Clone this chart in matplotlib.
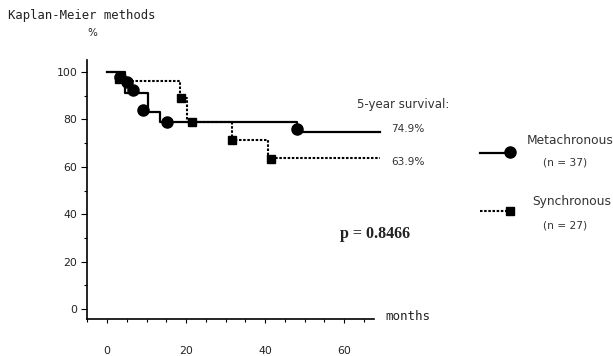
import matplotlib
matplotlib.use("Agg")
import matplotlib.pyplot as plt
from matplotlib.lines import Line2D
from matplotlib.ticker import FixedLocator

# ---- data ----
meta_t = [0, 4.5, 6.6, 10.3, 13.4, 48.0, 69.0]
meta_s = [100, 91, 91, 83, 79, 74.9, 74.9]
meta_mark_t = [3.3, 5.0, 6.6, 9.2, 15.2, 48.0]
meta_mark_s = [98, 96, 92.5, 84, 79, 76]

sync_t = [0, 3.0, 18.5, 20.2, 31.6, 40.8, 69.0]
sync_s = [100, 96.2, 89, 79, 71.3, 63.9, 63.9]
sync_mark_t = [3.0, 18.8, 21.5, 31.6, 41.5]
sync_mark_s = [97, 89, 79, 71.3, 63.5]

x_major = [0, 20, 40, 60]
y_major = [0, 20, 40, 60, 80, 100]
surv_labels = ["74.9%", "63.9%"]
groups = ["Metachronous", "Synchronous"]
group_n = ["(n = 37)", "(n = 27)"]
p_text = "p = 0.8466"

W, H = 613, 356
fig = plt.figure(figsize=(W / 100, H / 100), dpi=100)

def fx(x):
    return x / W

def fy(y):
    return 1 - y / H

ax = fig.add_axes([87.25 / W, 1 - 318.5 / H, (383.5 - 87.25) / W, (318.5 - 57.8) / H])
ax.set_xlim(-5, 70)
ax.set_ylim(-4, 106)
ax.patch.set_alpha(0)

for sp in ["top", "right"]:
    ax.spines[sp].set_visible(False)
ax.spines["left"].set_bounds(-4, 105)
ax.spines["bottom"].set_bounds(-5, 67.5)
ax.spines["left"].set_linewidth(1.2)
ax.spines["bottom"].set_linewidth(1.2)

dash = (0, (1.2, 0.8))
ax.step(meta_t, meta_s, where="post", color="black", lw=1.6)
ax.plot(meta_mark_t, meta_mark_s, "o", color="black", ms=8, ls="none")
ax.step(sync_t, sync_s, where="post", color="black", lw=1.5, ls=dash)
ax.plot(sync_mark_t, sync_mark_s, "s", color="black", ms=5.5, ls="none")

ax.xaxis.set_major_locator(FixedLocator(x_major))
ax.xaxis.set_minor_locator(FixedLocator([-5, 5, 10, 15, 25, 30, 35, 45, 50, 55, 65]))
ax.yaxis.set_major_locator(FixedLocator(y_major))
ax.yaxis.set_minor_locator(FixedLocator([10, 30, 50, 70, 90]))
ax.tick_params(axis="x", which="major", direction="out", length=3, width=0.8, pad=17, labelsize=7.8)
ax.tick_params(axis="x", which="minor", direction="out", length=2.5, width=0.8)
ax.tick_params(axis="y", which="major", direction="out", length=4, width=0.8, pad=3, labelsize=7.8)
ax.tick_params(axis="y", which="minor", direction="out", length=2, width=0.8)
ax.set_xticklabels([str(v) for v in x_major], color="#222222")
ax.set_yticklabels([str(v) for v in y_major], color="#222222")

fig.text(fx(8), fy(15), "Kaplan-Meier methods", family="DejaVu Sans Mono", fontsize=8.8,
         va="center", ha="left", color="#222222")
fig.text(fx(92), fy(33), "%", fontsize=7.5, va="center", ha="center", color="#222222")
fig.text(fx(385), fy(316), "months", family="DejaVu Sans Mono", fontsize=9,
         va="center", ha="left", color="#222222")
fig.text(fx(403), fy(104), "5-year survival:", fontsize=8.5, va="center", ha="center", color="#333333")
fig.text(fx(408), fy(129), surv_labels[0], fontsize=7.6, va="center", ha="center", color="#333333")
fig.text(fx(408), fy(162), surv_labels[1], fontsize=7.6, va="center", ha="center", color="#333333")
fig.text(fx(375), fy(234), p_text, family="Liberation Serif", fontweight="bold",
         fontsize=11.5, va="center", ha="center", color="#222222")

fig.add_artist(Line2D([fx(480), fx(510)], [fy(153), fy(153)], transform=fig.transFigure,
                      color="black", lw=1.6))
fig.add_artist(Line2D([fx(510)], [fy(152)], transform=fig.transFigure, marker="o",
                      color="black", ms=8, ls="none"))
fig.add_artist(Line2D([fx(480), fx(508)], [fy(211), fy(211)], transform=fig.transFigure,
                      color="black", lw=1.5, ls=dash))
fig.add_artist(Line2D([fx(510)], [fy(211)], transform=fig.transFigure, marker="s",
                      color="black", ms=5.5, ls="none"))
fig.text(fx(527), fy(141), groups[0], fontsize=8.8, va="center", ha="left", color="#333333")
fig.text(fx(565), fy(163), group_n[0], fontsize=7.7, va="center", ha="center", color="#333333")
fig.text(fx(532), fy(201), groups[1], fontsize=8.8, va="center", ha="left", color="#333333")
fig.text(fx(565), fy(225), group_n[1], fontsize=7.7, va="center", ha="center", color="#333333")

fig.savefig("out.png", dpi=100, facecolor="white")
